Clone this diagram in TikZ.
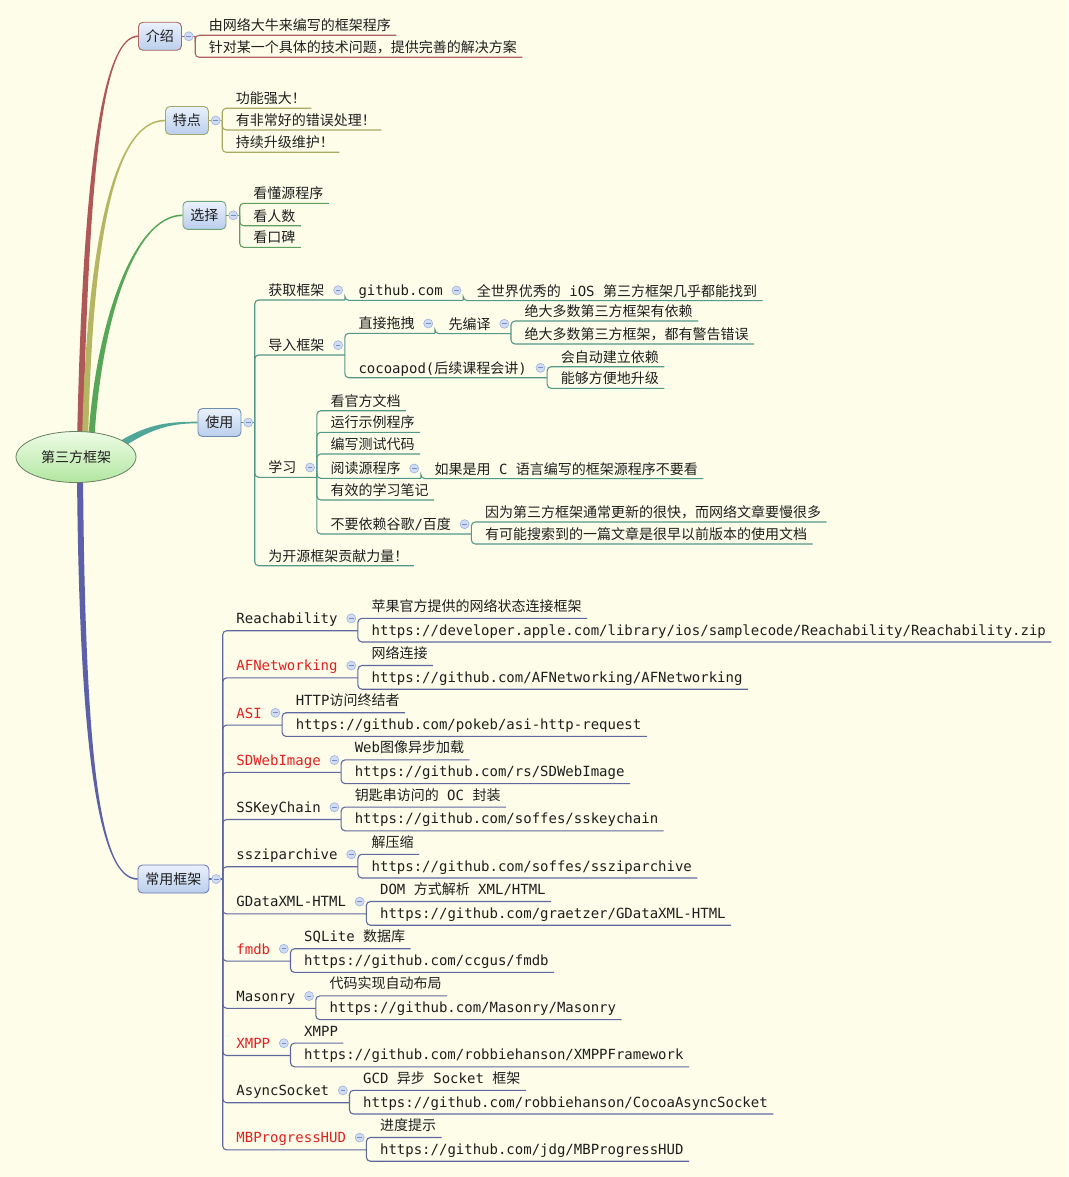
\documentclass[tikz,border=0pt]{standalone}
\usepackage{fontspec}
\setmainfont{Noto Sans CJK SC}
\setmonofont{DejaVu Sans Mono}
\usetikzlibrary{shapes.geometric}
\definecolor{bgc}{RGB}{253,253,233}
\definecolor{txt}{RGB}{30,30,30}
\definecolor{fwred}{RGB}{226,32,32}
\definecolor{cjs}{RGB}{176,88,88}
\definecolor{ctd}{RGB}{182,182,98}
\definecolor{cxz}{RGB}{88,166,88}
\definecolor{csy}{RGB}{80,166,152}
\definecolor{ccy}{RGB}{92,96,168}
\definecolor{ljs}{RGB}{176,96,96}
\definecolor{ltd}{RGB}{168,170,100}
\definecolor{lxz}{RGB}{96,158,96}
\definecolor{lsy}{RGB}{84,152,136}
\definecolor{lcy}{RGB}{96,104,160}
\definecolor{bjs}{RGB}{170,100,100}
\definecolor{btd}{RGB}{160,170,112}
\definecolor{bxz}{RGB}{110,164,120}
\definecolor{bsy}{RGB}{110,140,176}
\definecolor{bcy}{RGB}{110,124,176}
\definecolor{boxt}{RGB}{234,241,252}
\definecolor{boxb}{RGB}{186,206,236}
\definecolor{rtop}{RGB}{238,252,230}
\definecolor{rbot}{RGB}{178,230,160}
\definecolor{rdraw}{RGB}{104,128,96}
\definecolor{cfill}{RGB}{208,220,244}
\definecolor{cdraw}{RGB}{160,178,220}
\definecolor{cmin}{RGB}{120,140,200}
\pgfdeclarelayer{back}
\pgfdeclarelayer{mid}
\pgfsetlayers{back,mid,main}
\newcommand\m[1]{\texttt{#1}}
\newcommand\rd[1]{\textcolor{fwred}{\texttt{#1}}}
\newcommand\dd{4.5}
\newcommand\curcol{ljs}
% leaf: name, join coordinate, underline y, text
\newcommand\lf[4]{%
  \node[lt,xshift=13.7pt] (#1) at (#2|-0,#3-\dd) {#4};
  \draw[cn] (#2) |- ([xshift=5.5pt,yshift=-\dd*1pt]#1.base east);
}
% underlined parent: name, join coordinate, underline y, text
\newcommand\pn[4]{%
  \node[lt,xshift=13.7pt] (#1) at (#2|-0,#3-\dd) {#4};
  \coordinate (#1-j) at ([xshift=20.4pt,yshift=-\dd*1pt]#1.base east);
  \draw[cn] (#2) |- (#1-j);
  \node[cc] (#1-c) at ([xshift=13.7pt,yshift=5.3pt]#1.base east) {};
}
% boxed parent: name, left x, centre y, text, border colour
\newcommand\bx[5]{%
  \node[box,draw=#5,anchor=west] (#1) at (#2,#3) {#4};
  \coordinate (#1-j) at ([xshift=13.3pt]#1.east);
  \draw[cn] (#1.east) -- (#1-j);
  \node[cc] (#1-c) at ([xshift=6.8pt]#1.east) {};
}
% framework item: name, underline y, label, description, url
\newcommand\fw[5]{%
  \pn{#1}{changyong-j}{#2}{#3}%
  \lf{#1a}{#1-j}{#2-12.4}{#4}%
  \lf{#1b}{#1-j}{#2+11.3}{#5}%
}
\begin{document}
\begin{tikzpicture}[x=1pt,y=-1pt,font=\fontsize{14pt}{16pt}\selectfont,
  lt/.style={anchor=base west,inner sep=0pt,outer sep=0pt,text=txt},
  box/.style={rounded corners=4.5pt,top color=boxt,bottom color=boxb,inner xsep=7.5pt,inner ysep=0pt,
    minimum height=28pt,text height=12pt,text depth=1.5pt,text=txt,line width=0.9pt},
  cc/.style={circle,minimum size=9pt,inner sep=0pt,fill=cfill,draw=cdraw,line width=0.6pt,
    path picture={\draw[cmin,line width=0.9pt] ([xshift=-2.3pt]path picture bounding box.center) -- ([xshift=2.3pt]path picture bounding box.center);}},
  cn/.style={draw=\curcol,line width=1.1pt,rounded corners=4pt},
  rootn/.style={ellipse,minimum width=120pt,minimum height=51pt,inner sep=0pt,top color=rtop,bottom color=rbot,
    draw=rdraw,line width=0.8pt,text=txt}]
\begin{pgfonlayer}{back}
\fill[bgc] (0,0) rectangle (1068,1177);
\end{pgfonlayer}
\useasboundingbox (0,0) rectangle (1068,1177);

\node[rootn] (root) at (76,457) {第三方框架};

% ---- 介绍
\renewcommand\curcol{ljs}
\bx{jieshao}{138}{36.3}{介绍}{bjs}
\lf{js1}{jieshao-j}{35.3}{由网络大牛来编写的框架程序}
\lf{js2}{jieshao-j}{57.3}{针对某一个具体的技术问题，提供完善的解决方案}

% ---- 特点
\renewcommand\curcol{ltd}
\bx{tedian}{165}{120.5}{特点}{btd}
\lf{td1}{tedian-j}{108.3}{功能强大！}
\lf{td2}{tedian-j}{130}{有非常好的错误处理！}
\lf{td3}{tedian-j}{152.3}{持续升级维护！}

% ---- 选择
\renewcommand\curcol{lxz}
\bx{xuanze}{182.5}{215.3}{选择}{bxz}
\lf{xz1}{xuanze-j}{203.3}{看懂源程序}
\lf{xz2}{xuanze-j}{225.7}{看人数}
\lf{xz3}{xuanze-j}{247.3}{看口碑}

% ---- 使用
\renewcommand\curcol{lsy}
\bx{shiyong}{197.5}{422.5}{使用}{bsy}
\pn{hq}{shiyong-j}{300}{获取框架}
\pn{gh}{hq-j}{300.3}{\m{github.com}}
\lf{gh1}{gh-j}{300.6}{全世界优秀的\m{\ iOS\ }第三方框架几乎都能找到}
\pn{dr}{shiyong-j}{355}{导入框架}
\pn{zj}{dr-j}{333.3}{直接拖拽}
\pn{xb}{zj-j}{333.6}{先编译}
\lf{xb1}{xb-j}{321}{绝大多数第三方框架有依赖}
\lf{xb2}{xb-j}{344}{绝大多数第三方框架，都有警告错误}
\pn{cp}{dr-j}{377.7}{\m{cocoapod(}后续课程会讲\m{)}}
\lf{cp1}{cp-j}{366.7}{会自动建立依赖}
\lf{cp2}{cp-j}{388.3}{能够方便地升级}
\pn{xx}{shiyong-j}{477.3}{学习}
\lf{xx1}{xx-j}{410.7}{看官方文档}
\lf{xx2}{xx-j}{432.3}{运行示例程序}
\lf{xx3}{xx-j}{454}{编写测试代码}
\pn{yd}{xx-j}{478.3}{阅读源程序}
\lf{yd1}{yd-j}{478.6}{如果是用\m{\ C\ }语言编写的框架源程序不要看}
\lf{xx5}{xx-j}{500}{有效的学习笔记}
\pn{by}{xx-j}{534}{不要依赖谷歌\m{/}百度}
\lf{by1}{by-j}{522}{因为第三方框架通常更新的很快，而网络文章要慢很多}
\lf{by2}{by-j}{544}{有可能搜索到的一篇文章是很早以前版本的使用文档}
\lf{gx}{shiyong-j}{565.7}{为开源框架贡献力量！}

% ---- 常用框架
\renewcommand\curcol{lcy}
\renewcommand\dd{7}
\bx{changyong}{137.5}{879}{常用框架}{bcy}
\fw{fa}{630.7}{\m{Reachability}}{苹果官方提供的网络状态连接框架}{\m{https://developer.apple.com/library/ios/samplecode/Reachability/Reachability.zip}}
\fw{fb}{677.9}{\rd{AFNetworking}}{网络连接}{\m{https://github.com/AFNetworking/AFNetworking}}
\fw{fc}{725.1}{\rd{ASI}}{\m{HTTP}访问终结者}{\m{https://github.com/pokeb/asi-http-request}}
\fw{fd}{772.3}{\rd{SDWebImage}}{\m{Web}图像异步加载}{\m{https://github.com/rs/SDWebImage}}
\fw{fe}{819.5}{\m{SSKeyChain}}{钥匙串访问的\m{\ OC\ }封装}{\m{https://github.com/soffes/sskeychain}}
\fw{ff}{866.7}{\m{ssziparchive}}{解压缩}{\m{https://github.com/soffes/ssziparchive}}
\fw{fg}{913.9}{\m{GDataXML-HTML}}{\m{DOM\ }方式解析\m{\ XML/HTML}}{\m{https://github.com/graetzer/GDataXML-HTML}}
\fw{fh}{961.1}{\rd{fmdb}}{\m{SQLite\ }数据库}{\m{https://github.com/ccgus/fmdb}}
\fw{fi}{1008.3}{\m{Masonry}}{代码实现自动布局}{\m{https://github.com/Masonry/Masonry}}
\fw{fj}{1055.5}{\rd{XMPP}}{\m{XMPP}}{\m{https://github.com/robbiehanson/XMPPFramework}}
\fw{fk}{1102.7}{\m{AsyncSocket}}{\m{GCD\ }异步\m{\ Socket\ }框架}{\m{https://github.com/robbiehanson/CocoaAsyncSocket}}
\fw{fl}{1149.9}{\rd{MBProgressHUD}}{进度提示}{\m{https://github.com/jdg/MBProgressHUD}}

% ---- thick tapered main branches
\begin{pgfonlayer}{mid}
\fill[cjs] (77,445) .. controls (83,150) and (105,35.5) .. ([yshift=0.8pt]jieshao.west)
  -- ([yshift=-0.8pt]jieshao.west) .. controls (105,37.1) and (89,150) .. (83,445) -- cycle;
\fill[ctd] (82,445) .. controls (86,250) and (112,119.7) .. ([yshift=0.8pt]tedian.west)
  -- ([yshift=-0.8pt]tedian.west) .. controls (112,121.3) and (92,250) .. (88,445) -- cycle;
\fill[cxz] (88,445) .. controls (94,330) and (132,214.5) .. ([yshift=0.8pt]xuanze.west)
  -- ([yshift=-0.8pt]xuanze.west) .. controls (132,216.1) and (100,330) .. (94,445) -- cycle;
\fill[csy] (112,446) .. controls (145,424.5) and (165,421.7) .. ([yshift=0.8pt]shiyong.west)
  -- ([yshift=-0.8pt]shiyong.west) .. controls (165,423.3) and (146,431.5) .. (114,453) -- cycle;
\fill[ccy] (77,470) .. controls (79,760) and (100,879.8) .. ([yshift=-0.8pt]changyong.west)
  -- ([yshift=0.8pt]changyong.west) .. controls (100,878.2) and (85,760) .. (83,470) -- cycle;
\end{pgfonlayer}
\end{tikzpicture}
\end{document}
